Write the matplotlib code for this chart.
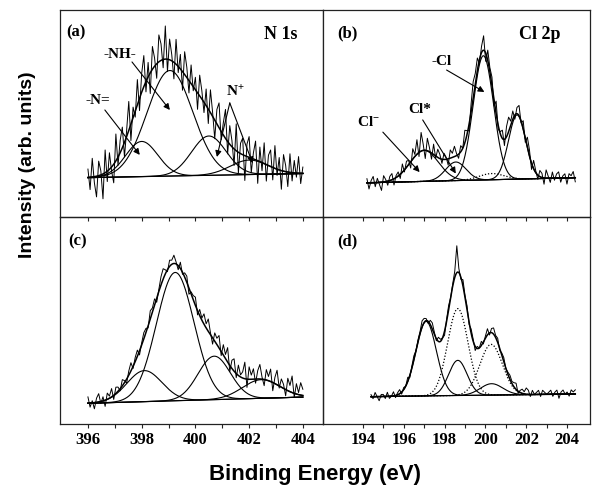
import numpy as np
import matplotlib
matplotlib.use("Agg")
from matplotlib import pyplot as plt

plt.rcParams['mathtext.fontset'] = 'custom'
plt.rcParams['mathtext.rm'] = 'Liberation Serif:bold'
plt.rcParams['mathtext.it'] = 'Liberation Serif:bold'
plt.rcParams['mathtext.bf'] = 'Liberation Serif:bold'

# ---- data (y in panel fraction, 0 = bottom, 1 = top) ----
# panel (a) N 1s
a_range = (396.0, 404.0)
a_base = (0.19, 0.21)
a_peaks = [(398.0, 0.17, 0.60), (399.05, 0.51, 0.85), (400.5, 0.19, 0.64), (402.0, 0.07, 0.70)]
a_noise = [4, -6, 9, -3, -10, 7, 2, -12, 11, -5, 8, -2, -9, 13, -4, 6, 10, -7, 3, 14, -8, 5, -3, 12,
           -6, 9, 15, -5, 7, -10, 11, 4, -7, 13, 8, -4, 16, -6, 10, 3, -8, 12, -3, 7, -9, 11, 5, -6,
           9, -2, 6, -8, 10, 4, -5, 8, -7, 11, 2, -9, 7, 12, -4, 6, 14, -6, 9, 3, -8, 13, -10, 5, 8,
           -12, 6, 10, -7, 3, 9, -11, 7, -4, 10, -8, 5, 8, -6, 11, -3, 6, -9, 8, 3, -7, 9, -4, 6, -2,
           8, -5, 3]

# panel (b) Cl 2p
b_range = (194.2, 204.4)
b_base = (0.165, 0.19)
b_peaks = [(197.0, 0.15, 0.70), (198.55, 0.09, 0.50), (199.9, 0.60, 0.50), (201.55, 0.31, 0.42)]
b_dotted = [(200.3, 0.03, 0.60)]
b_noise = [2, -3, 1, 3, -2, 2, -1, -4, 3, 1, -2, 2, 3, -3, 1, 2, -2, 4, -1, 3, 2, -3, 5, 1, 7, -2,
           9, 3, -4, 6, 2, -3, 5, -1, 4, 2, -2, 3, 1, -3, 4, 2, 5, 1, -2, 3, 0, 6, 2, -3, 4, 8, 5,
           6, -2, 3, 7, -4, 5, 2, 4, -3, 6, -2, 1, 4, -3, 5, 7, 2, 4, -2, 3, 5, -1, 4, -2, 5, 3,
           -3, 4, 1, -2, 3, 2, -3, 4, 1, -2, 3, -1, 2, 3, -2, 1, 2, -3, 2, 1, 3, -2]

# panel (c)
c_range = (396.0, 404.0)
c_base = (0.10, 0.13)
c_peaks = [(398.1, 0.15, 0.65), (399.25, 0.62, 0.70), (400.7, 0.21, 0.60), (402.45, 0.09, 0.70)]
c_noise = [3, -2, 1, -3, 2, 4, -1, 2, -3, 3, 1, 4, -2, 3, 2, -1, 3, 1, -2, 2, 4, -1, 2, 3, -2, 1,
           3, 2, -1, 4, 2, 3, -2, 1, 4, 5, 2, -1, 3, 2, 4, 1, -2, 3, -1, 2, 3, -3, 1, 2, 4, -2, 3,
           1, 5, 2, 6, 1, -3, 4, 3, 6, -2, 5, 2, 7, -3, 4, 6, -2, 5, 1, 3, 8, -4, 6, 2, 5, -2, 4,
           7, 1, -3, 5, 2, 6, -4, 3, 7, -1, 4, 2, -3, 6, 3, 8, -2, 5, 1, 6, 3]

# panel (d)
d_range = (194.4, 204.4)
d_base = (0.132, 0.145)
d_peaks = [(197.1, 0.36, 0.50), (198.65, 0.17, 0.45), (200.3, 0.055, 0.55)]
d_dotted = [(198.65, 0.42, 0.50), (200.28, 0.245, 0.55)]
d_noise = [1, -1, 2, 0, -2, 1, 1, -1, 2, -1, 0, 2, -1, 1, 2, -1, 1, 0, 2, -1, 1, 2, 0, 1, 1, 3,
           2, 1, -1, 2, 3, 1, -1, 2, 1, 0, -2, 1, 2, 0, 1, 3, 13, 2, -1, 3, 1, 2, -1, 2, 1, -2, 1,
           0, 2, -1, 1, 3, -1, 2, 3, 1, 2, -1, 1, 2, 0, 1, 2, 1, 2, 3, -1, 1, 2, 1, 3, 2, -1, 2, 0,
           1, 2, -1, 2, 1, 0, 1, 2, -1, 1, 2, -2, 1, 2, 0, 1, -1, 2, 1, 2]

left_ticks = [396, 398, 400, 402, 404]
right_ticks = [194, 196, 198, 200, 202, 204]


def gauss(x, c, h, s):
    return h * np.exp(-(x - c) ** 2 / (2 * s ** 2))


def draw_panel(ax, xr, base, peaks, noise, dotted=()):
    x = np.linspace(xr[0], xr[1], 400)
    bg = np.interp(x, xr, base)
    env = bg.copy()
    for p in list(peaks) + list(dotted):
        env += gauss(x, *p)
    xr_raw = np.linspace(xr[0], xr[1], len(noise))
    raw = np.interp(xr_raw, x, env) + np.array(noise) / 100.0
    ax.plot(xr_raw, raw, color='k', lw=0.7)
    ax.plot(x, bg, color='k', lw=0.8)
    for p in peaks:
        ax.plot(x, bg + gauss(x, *p), color='k', lw=0.8)
    for p in dotted:
        ax.plot(x, bg + gauss(x, *p), color='k', lw=0.9, ls=(0, (1, 1.5)))
    ax.plot(x, env, color='k', lw=1.1)


def arrow(ax, tail, tip):
    ax.annotate('', xy=tip, xytext=tail,
                arrowprops=dict(arrowstyle='-|>', color='k', lw=0.8,
                                shrinkA=0, shrinkB=0, mutation_scale=9))


serif = dict(family='Liberation Serif', weight='bold')

fig = plt.figure(figsize=(5.92, 4.87), dpi=100)
L, M, R = 60 / 592, 323 / 592, 590 / 592
T, Mid, B = 1 - 10 / 487, 1 - 217 / 487, 1 - 424 / 487
ax_a = fig.add_axes([L, Mid, M - L, T - Mid])
ax_b = fig.add_axes([M, Mid, R - M, T - Mid])
ax_c = fig.add_axes([L, B, M - L, Mid - B])
ax_d = fig.add_axes([M, B, R - M, Mid - B])

draw_panel(ax_a, a_range, a_base, a_peaks, a_noise)
draw_panel(ax_b, b_range, b_base, b_peaks, b_noise, b_dotted)
draw_panel(ax_c, c_range, c_base, c_peaks, c_noise)
draw_panel(ax_d, d_range, d_base, d_peaks, d_noise, d_dotted)

for ax, lim, ticks, bottom in [(ax_a, (394.96, 404.75), left_ticks, False),
                               (ax_b, (192.05, 205.12), right_ticks, False),
                               (ax_c, (394.96, 404.75), left_ticks, True),
                               (ax_d, (192.05, 205.12), right_ticks, True)]:
    ax.set_xlim(*lim)
    ax.set_ylim(0, 1)
    ax.set_yticks([])
    ax.set_xticks(ticks)
    ax.set_xticks(np.arange(ticks[0], ticks[-1] + 1, 1), minor=True)
    ax.tick_params(axis='x', which='both', direction='out', length=3, width=0.8,
                   color='#222222', labelbottom=bottom, pad=3)
    for sp in ax.spines.values():
        sp.set_linewidth(0.9)
        sp.set_color('#222222')
    if bottom:
        ax.set_facecolor('none')
        for lab in ax.get_xticklabels():
            lab.set_fontfamily('Liberation Serif')
            lab.set_fontweight('bold')
            lab.set_fontsize(12)

# panel labels
ax_a.text(0.061, 0.894, '(a)', transform=ax_a.transAxes, ha='center', va='center', fontsize=12, **serif)
ax_a.text(0.84, 0.884, 'N 1s', transform=ax_a.transAxes, ha='center', va='center', fontsize=13, **serif)
ax_b.text(0.093, 0.889, '(b)', transform=ax_b.transAxes, ha='center', va='center', fontsize=12, **serif)
ax_b.text(0.813, 0.884, 'Cl 2p', transform=ax_b.transAxes, ha='center', va='center', fontsize=13, **serif)
ax_c.text(0.065, 0.884, '(c)', transform=ax_c.transAxes, ha='center', va='center', fontsize=12, **serif)
ax_d.text(0.093, 0.884, '(d)', transform=ax_d.transAxes, ha='center', va='center', fontsize=12, **serif)

# annotations (a)
ax_a.text(397.19, 0.787, '-NH-', ha='center', va='center', fontsize=11, **serif)
arrow(ax_a, (397.64, 0.749), (399.05, 0.517))
ax_a.text(396.37, 0.565, '-N=', ha='center', va='center', fontsize=11, **serif)
arrow(ax_a, (396.63, 0.517), (397.93, 0.30))
ax_a.text(401.5, 0.604, r'N$^{+}$', ha='center', va='center', fontsize=11, **serif)
arrow(ax_a, (401.28, 0.551), (400.8, 0.29))
arrow(ax_a, (401.28, 0.551), (402.13, 0.26))

# annotations (b)
ax_b.text(197.85, 0.749, '-Cl', ha='center', va='center', fontsize=11, **serif)
arrow(ax_b, (198.1, 0.71), (199.95, 0.604))
ax_b.text(196.78, 0.517, 'Cl*', ha='center', va='center', fontsize=11, **serif)
arrow(ax_b, (196.93, 0.469), (198.55, 0.21))
ax_b.text(194.29, 0.459, r'Cl$^{-}$', ha='center', va='center', fontsize=11, **serif)
arrow(ax_b, (194.98, 0.41), (196.78, 0.217))

fig.text(0.046, 0.661, 'Intensity (arb. units)', rotation=90, ha='center', va='center',
         fontsize=14, family='Liberation Sans', weight='bold')
fig.text(315 / 592, 0.025, 'Binding Energy (eV)', ha='center', va='center',
         fontsize=16, family='Liberation Sans', weight='bold')

fig.savefig('out.png', dpi=100)
